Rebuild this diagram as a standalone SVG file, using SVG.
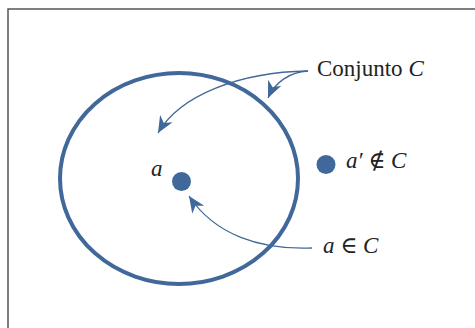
<svg xmlns="http://www.w3.org/2000/svg" width="475" height="328" viewBox="0 0 475 328">
<style>
.lbl{font-family:"Liberation Serif","DejaVu Serif",serif;font-size:23px;fill:#222}
.it{font-style:italic}
.conn{fill:none;stroke:#41689a;stroke-width:1.3}
.dot{fill:#41689a}
</style>
<defs>
<marker id="ah" markerUnits="userSpaceOnUse" markerWidth="20" markerHeight="20" viewBox="-16 -8 18 16" refX="0" refY="0" orient="auto">
<path d="M0,0 L-15,-6.5 L-10.5,0 L-15,6.5 Z" fill="#41689a"/>
</marker>
</defs>
<rect width="475" height="328" fill="#fff"/>
<path d="M8,328 L8,9 L475,9" fill="none" stroke="#555" stroke-width="1.5"/>
<g id="setC">
<ellipse cx="179" cy="178.5" rx="119" ry="105.5" fill="none" stroke="#41689a" stroke-width="4"/>
</g>
<g id="a">
<circle class="dot" cx="181.5" cy="181.5" r="9.5"/>
<text class="lbl it" x="151" y="176">a</text>
</g>
<g id="aprime">
<circle class="dot" cx="326" cy="164.5" r="9.5"/>
<text class="lbl" x="346" y="168"><tspan class="it">a′</tspan> ∉ <tspan class="it">C</tspan></text>
</g>
<g id="labelC">
<text class="lbl" x="317" y="76">Conjunto <tspan class="it">C</tspan></text>
</g>
<g id="labelIn">
<text class="lbl" x="323" y="253"><tspan class="it">a</tspan> ∈ <tspan class="it">C</tspan></text>
</g>
<g id="connectors">
<path class="conn" d="M308,71 C240,72 180,95 158,133" marker-end="url(#ah)"/>
<path class="conn" d="M308,71 C290,72 275,82 268,98" marker-end="url(#ah)"/>
<path class="conn" d="M312,248 C260,250 215,235 189,196" marker-end="url(#ah)"/>
</g>
</svg>
